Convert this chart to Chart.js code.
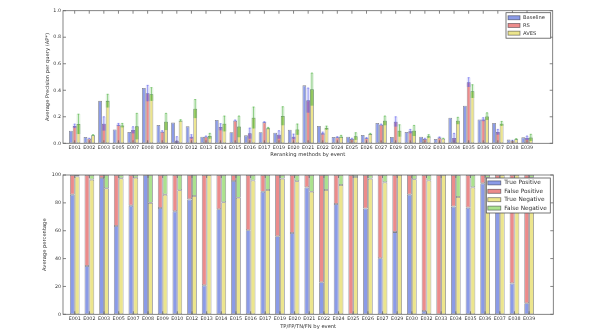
<!DOCTYPE html>
<html>
<head>
<meta charset="utf-8">
<script src="https://cdn.jsdelivr.net/npm/chart.js@4.4.0/dist/chart.umd.min.js"></script>
<style>
  html, body { margin: 0; padding: 0; background: #fff; }
  #wrap { position: relative; width: 600px; height: 335px; }
  #wrap canvas { position: absolute; left: 0; }
  #apChart { top: 0; }
  #rateChart { top: 160px; }
</style>
</head>
<body>
<div id="wrap">
  <canvas id="apChart" width="600" height="160"></canvas>
  <canvas id="rateChart" width="600" height="175"></canvas>
</div>
<script>
var events = ["E001", "E002", "E003", "E005", "E007", "E008", "E009", "E010", "E012", "E013",
  "E014", "E015", "E016", "E017", "E019", "E020", "E021", "E022", "E024", "E025", "E026",
  "E027", "E029", "E030", "E032", "E033", "E034", "E035", "E036", "E037", "E038", "E039"];

// average precision per method
var baseline = [0.095, 0.048, 0.32, 0.105, 0.085, 0.417, 0.138, 0.156, 0.128, 0.05,
  0.176, 0.083, 0.06, 0.083, 0.08, 0.103, 0.437, 0.13, 0.048, 0.05, 0.063,
  0.153, 0.048, 0.085, 0.05, 0.033, 0.193, 0.284, 0.18, 0.153, 0.028, 0.045];
var rs = [0.13, 0.035, 0.148, 0.14, 0.1, 0.377, 0.088, 0.02, 0.05, 0.05,
  0.123, 0.171, 0.075, 0.158, 0.065, 0.05, 0.324, 0.075, 0.045, 0.033, 0.038,
  0.14, 0.163, 0.09, 0.033, 0.043, 0.04, 0.46, 0.18, 0.085, 0.02, 0.04];
var aves = [0.145, 0.06, 0.32, 0.135, 0.128, 0.37, 0.163, 0.171, 0.26, 0.055,
  0.148, 0.126, 0.193, 0.113, 0.206, 0.105, 0.407, 0.116, 0.05, 0.053, 0.07,
  0.171, 0.095, 0.095, 0.053, 0.035, 0.17, 0.392, 0.203, 0.148, 0.03, 0.043];
var rsErr = [0.015, 0.003, 0.052, 0.01, 0.025, 0.06, 0.007, 0.03, 0.015, 0.005,
  0.025, 0.005, 0.04, 0.005, 0.03, 0.02, 0.093, 0.01, 0.005, 0.005, 0.005,
  0.005, 0.037, 0.015, 0.005, 0.005, 0.035, 0.035, 0.013, 0.02, 0.003, 0.015];
var avesErr = [0.075, 0.005, 0.05, 0.015, 0.098, 0.05, 0.063, 0.007, 0.07, 0.02,
  0.058, 0.08, 0.081, 0.007, 0.07, 0.041, 0.123, 0.014, 0.01, 0.027, 0.005,
  0.035, 0.045, 0.04, 0.012, 0.003, 0.026, 0.05, 0.027, 0.017, 0.005, 0.025];
var apTicks = [0, 0.2, 0.4, 0.6, 0.8, 1.0];

// percentages per event (left bar TP+FP, right bar TN+FN)
var truePos = [85.9, 34.7, 97.8, 63.4, 78, 100, 76.3, 73.9, 82.5, 20.8,
  75.4, 95.7, 60.3, 88, 56, 58.4, 91.1, 23, 79.2, 0, 76,
  40.2, 59, 85.9, 2.4, 0, 77.3, 76.6, 94, 90, 22.2, 7.9];
var falsePos = [14.1, 65.3, 2.2, 36.6, 22, 0, 23.7, 26.1, 17.5, 79.2,
  24.6, 4.3, 39.7, 12, 44, 41.6, 8.9, 77, 20.8, 100, 24,
  59.8, 41, 14.1, 97.6, 100, 22.7, 23.4, 6, 10, 77.8, 92.1];
var trueNeg = [99, 96.7, 90.4, 97.6, 98, 80, 85.9, 89, 84.9, 100,
  80.4, 83.7, 96, 89.2, 97.4, 95.5, 88, 89.2, 92.8, 98.6, 97.4,
  94.7, 100, 97, 96, 100, 84.2, 91.1, 98, 100, 100, 98];
var falseNeg = [1, 3.3, 9.6, 2.4, 2, 20, 14.1, 11, 15.1, 0,
  19.6, 16.3, 4, 10.8, 2.6, 4.5, 12, 10.8, 7.2, 1.4, 2.6,
  5.3, 0, 3, 4, 0, 15.8, 8.9, 2, 0, 0, 2];
var pctTicks = [0, 20, 40, 60, 80, 100];

var FONT = "'DejaVu Sans', sans-serif";
var BLUE = "#8b9be7", RED = "#ec8b8b", YELLOW = "#ece58d", GREEN = "#abe28e";
var EDGE = "rgba(30,30,40,0.55)";

Chart.defaults.font.family = FONT;
Chart.defaults.color = "#333";

function points(arr) {
  return arr.map(function (v, i) { return { x: i, y: v }; });
}

// box around the plot area with short inward ticks on all four sides
var framePlugin = {
  id: "frame",
  afterDraw: function (chart) {
    var ctx = chart.ctx, a = chart.chartArea, xs = chart.scales.x, ys = chart.scales.y;
    ctx.save();
    ctx.strokeStyle = "#666";
    ctx.lineWidth = 0.8;
    ctx.strokeRect(a.left, a.top, a.right - a.left, a.bottom - a.top);
    ctx.beginPath();
    xs.ticks.forEach(function (t) {
      var x = xs.getPixelForValue(t.value);
      ctx.moveTo(x, a.bottom); ctx.lineTo(x, a.bottom - 3);
      ctx.moveTo(x, a.top); ctx.lineTo(x, a.top + 3);
    });
    ys.ticks.forEach(function (t) {
      var y = ys.getPixelForValue(t.value);
      ctx.moveTo(a.left, y); ctx.lineTo(a.left + 3, y);
      ctx.moveTo(a.right, y); ctx.lineTo(a.right - 3, y);
    });
    ctx.stroke();
    ctx.restore();
  }
};

// legend in a framed box at the upper right of the plot
var boxLegend = {
  id: "boxLegend",
  afterDraw: function (chart, args, o) {
    var ctx = chart.ctx, a = chart.chartArea, sets = chart.data.datasets;
    var left = a.right - o.inset - o.width, top = a.top + o.inset;
    var h = o.pad * 2 + sets.length * o.row;
    ctx.save();
    ctx.fillStyle = "#fff";
    ctx.fillRect(left, top, o.width, h);
    ctx.strokeStyle = "#555";
    ctx.lineWidth = 0.8;
    ctx.strokeRect(left, top, o.width, h);
    ctx.font = o.fontSize + "px " + FONT;
    ctx.textBaseline = "middle";
    sets.forEach(function (ds, i) {
      var cy = top + o.pad + o.row * (i + 0.5);
      ctx.fillStyle = ds.backgroundColor;
      ctx.fillRect(left + o.swatchX, cy - 2, o.swatchW, 4);
      ctx.strokeStyle = EDGE;
      ctx.strokeRect(left + o.swatchX, cy - 2, o.swatchW, 4);
      ctx.fillStyle = "#333";
      ctx.fillText(ds.label, left + o.textX, cy);
    });
    ctx.restore();
  }
};

// translucent error bands plus a thin whisker over each bar
var errorBands = {
  id: "errorBands",
  afterDatasetsDraw: function (chart) {
    var ctx = chart.ctx, ys = chart.scales.y;
    chart.data.datasets.forEach(function (ds, i) {
      if (!ds.errors) return;
      var meta = chart.getDatasetMeta(i);
      meta.data.forEach(function (bar, j) {
        var v = ds.data[j].y, e = ds.errors[j];
        var p = bar.getProps(["x", "width"], true);
        var x0 = p.x - p.width / 2;
        var yHi = ys.getPixelForValue(v + e);
        var yVal = ys.getPixelForValue(v);
        var yLo = ys.getPixelForValue(Math.max(v - e, 0));
        ctx.save();
        ctx.fillStyle = "rgba(" + ds.errorColor + ",0.35)";
        ctx.fillRect(x0, yVal, p.width, yLo - yVal);
        ctx.fillStyle = "rgba(" + ds.errorColor + ",0.15)";
        ctx.fillRect(x0, yHi, p.width, yVal - yHi);
        ctx.strokeStyle = "rgba(" + ds.errorColor + ",0.7)";
        ctx.lineWidth = 0.8;
        ctx.beginPath();
        ctx.moveTo(p.x, yLo); ctx.lineTo(p.x, yHi);
        ctx.moveTo(p.x - 1, yHi); ctx.lineTo(p.x + 1, yHi);
        ctx.stroke();
        ctx.restore();
      });
    });
  }
};

function eventAxis(min, max, title, height, titlePad) {
  return {
    type: "linear",
    offset: false,
    min: min,
    max: max,
    grid: { display: false, drawTicks: false },
    border: { display: false },
    afterBuildTicks: function (s) {
      s.ticks = events.map(function (_, i) { return { value: i }; });
    },
    ticks: {
      autoSkip: false, maxRotation: 0, padding: 2,
      font: { size: 4.8 },
      callback: function (v) { return events[v]; }
    },
    title: { display: true, text: title, font: { size: 5.2 }, padding: { top: 0, bottom: titlePad } },
    afterFit: function (s) { s.height = height; }
  };
}

function valueAxis(min, max, tickList, title, fmt, titlePad) {
  return {
    min: min,
    max: max,
    grid: { display: false, drawTicks: false },
    border: { display: false },
    afterBuildTicks: function (s) {
      s.ticks = tickList.map(function (v) { return { value: v }; });
    },
    ticks: { padding: 2, font: { size: 4.8 }, callback: fmt },
    title: { display: true, text: title, font: { size: 5.2 }, padding: { top: titlePad, bottom: 0 } },
    afterFit: function (s) { s.width = 23; }
  };
}

new Chart(document.getElementById("apChart"), {
  type: "bar",
  data: {
    datasets: [
      { label: "Baseline", data: points(baseline), backgroundColor: BLUE, borderColor: EDGE },
      { label: "RS", data: points(rs), backgroundColor: RED, borderColor: EDGE,
        errors: rsErr, errorColor: "90,90,235" },
      { label: "AVES", data: points(aves), backgroundColor: YELLOW, borderColor: EDGE,
        errors: avesErr, errorColor: "70,175,55" }
    ]
  },
  options: {
    responsive: false,
    animation: false,
    layout: { padding: { left: 40, top: 10.7, right: 47.3, bottom: 0 } },
    datasets: { bar: { categoryPercentage: 0.78, barPercentage: 1, borderWidth: 0.8, borderSkipped: false } },
    plugins: {
      legend: { display: false },
      tooltip: { enabled: false },
      boxLegend: { inset: 2, width: 44.7, row: 7.7, pad: 1.2, swatchX: 2, swatchW: 12, textX: 17, fontSize: 5.2 }
    },
    scales: {
      x: eventAxis(-0.8, 32.76, "Reranking methods by event", 16.7, 2),
      y: valueAxis(0, 1, apTicks, "Average Precision per query (AP*)",
        function (v) { return v.toFixed(1); }, 5)
    }
  },
  plugins: [errorBands, framePlugin, boxLegend]
});

new Chart(document.getElementById("rateChart"), {
  type: "bar",
  data: {
    datasets: [
      { label: "True Positive", data: points(truePos), stack: "pos", backgroundColor: BLUE, borderColor: EDGE },
      { label: "False Positive", data: points(falsePos), stack: "pos", backgroundColor: RED, borderColor: EDGE },
      { label: "True Negative", data: points(trueNeg), stack: "neg", backgroundColor: YELLOW, borderColor: EDGE },
      { label: "False Negative", data: points(falseNeg), stack: "neg", backgroundColor: GREEN, borderColor: EDGE }
    ]
  },
  options: {
    responsive: false,
    animation: false,
    layout: { padding: { left: 40, top: 15, right: 46.7, bottom: 0 } },
    datasets: { bar: { categoryPercentage: 0.66, barPercentage: 1, borderWidth: 0.8, borderSkipped: false } },
    plugins: {
      legend: { display: false },
      tooltip: { enabled: false },
      boxLegend: { inset: 3, width: 64, row: 8.4, pad: 0.7, swatchX: 1.5, swatchW: 13, textX: 18, fontSize: 5.8 }
    },
    scales: {
      x: eventAxis(-0.8, 32.65, "TP/FP/TN/FN by event", 20.7, 5.5),
      y: Object.assign(valueAxis(0, 100, pctTicks, "Average percentage",
        function (v) { return v; }, 1.5), { stacked: true })
    }
  },
  plugins: [framePlugin, boxLegend]
});
</script>
</body>
</html>
